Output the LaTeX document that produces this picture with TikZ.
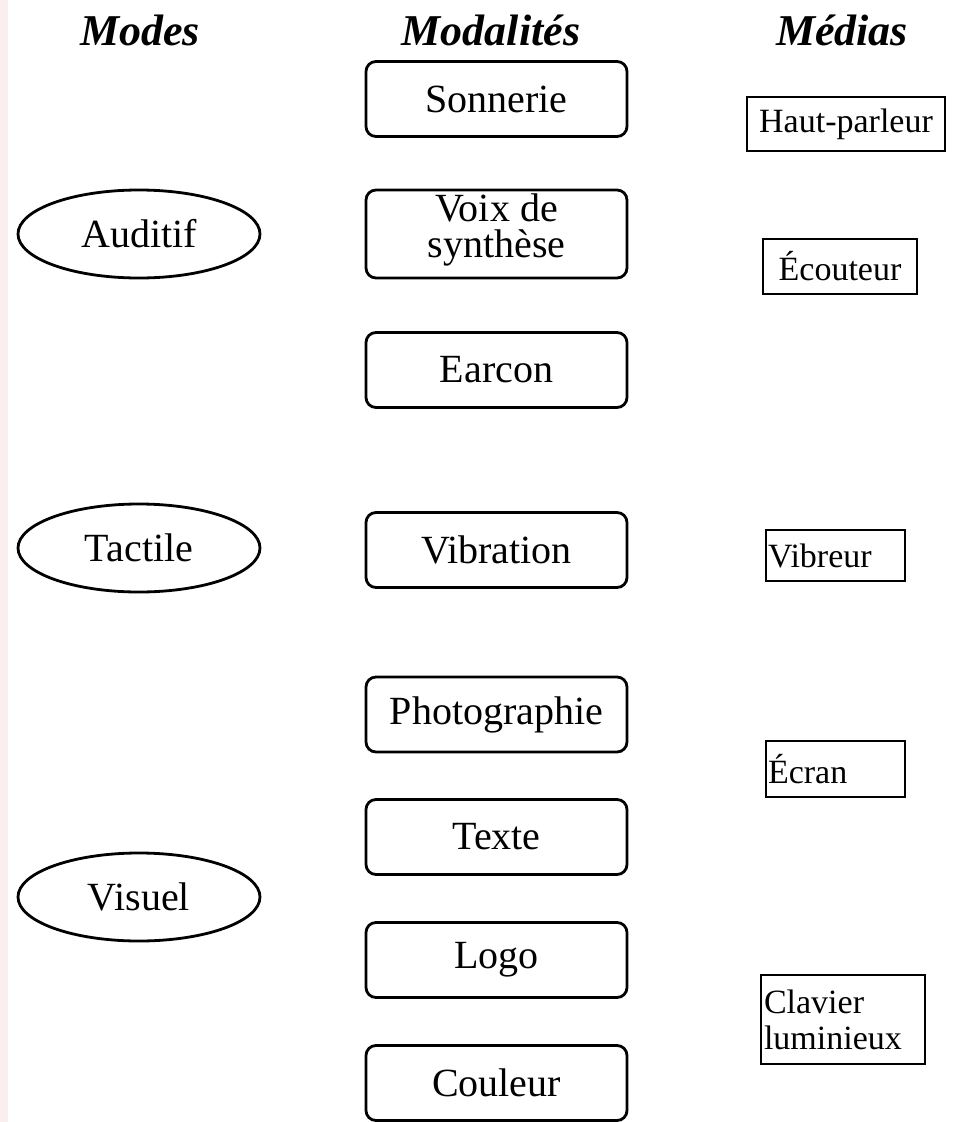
\documentclass[tikz,border=0pt]{standalone}
\usepackage{fontspec}
\setmainfont{Liberation Serif}
\usetikzlibrary{shapes.geometric}
\definecolor{edgepink}{RGB}{251,238,238}
\tikzset{
  head/.style={font=\fontsize{44}{44}\selectfont\bfseries\itshape, inner sep=0pt},
  modal/.style={draw, line width=2.8pt, rounded corners=10pt, minimum width=261pt, minimum height=75pt, inner sep=0pt, align=center, font=\fontsize{40}{36}\selectfont},
  mode/.style={draw, ellipse, line width=2.8pt, minimum width=242pt, minimum height=88pt, inner sep=0pt, font=\fontsize{40}{40}\selectfont},
  media/.style={draw, line width=2.8pt, inner sep=0pt, font=\fontsize{34}{36}\selectfont},
}
\begin{document}
\begin{tikzpicture}[x=1pt,y=-1pt]
\useasboundingbox (0,0) rectangle (967,1122);
\fill[edgepink] (0,0) rectangle (8,1122);
% headings
\node[head] (hmodes) at (140,30) {Modes};
\node[head] (hmodal) at (491,30) {Modalités};
\node[head] (hmedia) at (842,30) {Médias};
% modes
\node[mode] (auditif) at (139,234) {Auditif};
\node[mode] (tactile) at (139,548) {Tactile};
\node[mode] (visuel) at (139,897) {Visuel};
% modalities
\node[modal] (sonnerie) at (496.5,99) {Sonnerie};
\node[modal, minimum height=88pt] (voix) at (496.5,234) {};
\node[font=\fontsize{40}{36}\selectfont, align=center, inner sep=0pt] (voixtxt) at (496.5,230) {Voix de\\synthèse};
\node[modal] (earcon) at (496.5,370) {Earcon};
\node[modal] (vibration) at (496.5,550) {Vibration};
\node[modal] (photo) at (496.5,714.5) {Photographie};
\node[modal] (texte) at (496.5,837) {Texte};
\node[modal] (logo) at (496.5,960) {Logo};
\node[modal] (couleur) at (496.5,1083) {Couleur};
% media
\node[media, minimum width=198pt, minimum height=54pt] (hp) at (846,124) {Haut-parleur};
\node[media, minimum width=154pt, minimum height=55pt] (ecouteur) at (840,266.5) {Écouteur};
\node[media, minimum width=139pt, minimum height=51pt, text width=135pt, inner xsep=2pt, align=left] (vibreur) at (835.5,555.5) {Vibreur};
\node[media, minimum width=139pt, minimum height=56pt, text width=135pt, inner xsep=2pt, align=left] (ecran) at (835.5,769) {Écran};
\node[media, minimum width=164pt, minimum height=89pt, text width=158pt, inner xsep=3pt, align=left] (clavier) at (843,1019.5) {Clavier\\luminieux};
\end{tikzpicture}
\end{document}
